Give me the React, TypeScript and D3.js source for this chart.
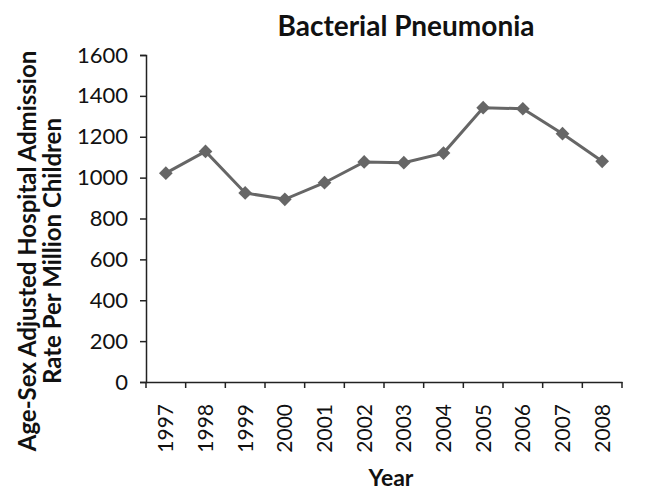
import { useEffect, useRef } from "react";
import * as d3 from "d3";

const years = ["1997", "1998", "1999", "2000", "2001", "2002", "2003", "2004", "2005", "2006", "2007", "2008"];
const rates = [1022, 1128, 925, 894, 975, 1077, 1073, 1120, 1342, 1337, 1215, 1080];
const yTicks = [0, 200, 400, 600, 800, 1000, 1200, 1400, 1600];

function App() {
  const ref = useRef<SVGSVGElement>(null);

  useEffect(() => {
    if (!ref.current) return;
    const svg = d3.select(ref.current);
    svg.selectAll("*").remove();

    const left = 146;
    const right = 622;
    const top = 55;
    const bottom = 382;
    const font = "Lato, 'Open Sans', sans-serif";

    const x = d3.scaleBand<string>().domain(years).range([left, right]);
    const y = d3.scaleLinear().domain([0, 1600]).range([bottom, top]);

    // y axis
    const yAxis = svg
      .append("g")
      .attr("transform", `translate(${left},0)`)
      .call(d3.axisLeft(y).tickValues(yTicks).tickFormat(d3.format("d")).tickSize(6).tickPadding(12));
    yAxis.select(".domain").attr("stroke", "#222").attr("stroke-width", 1.5);
    yAxis.selectAll(".tick line").attr("stroke", "#222").attr("stroke-width", 1.5);
    yAxis
      .selectAll(".tick text")
      .style("font-family", font)
      .style("font-size", "22px")
      .attr("fill", "#111");

    // x axis
    const xAxis = svg
      .append("g")
      .attr("transform", `translate(0,${bottom})`)
      .call(d3.axisBottom(x).tickSize(0).tickSizeOuter(0));
    xAxis.select(".domain").attr("stroke", "#222").attr("stroke-width", 1.5);
    xAxis.selectAll(".tick line").remove();
    xAxis
      .selectAll(".tick text")
      .style("font-family", font)
      .style("font-size", "21px")
      .attr("fill", "#111")
      .attr("transform", "rotate(-90)")
      .attr("text-anchor", "end")
      .attr("x", -22)
      .attr("y", 0)
      .attr("dy", "0.35em");

    // x band boundary ticks
    svg
      .append("g")
      .selectAll("line")
      .data(years.concat(["end"]))
      .enter()
      .append("line")
      .attr("x1", (d, i) => (i < years.length ? (x(d) as number) : right))
      .attr("x2", (d, i) => (i < years.length ? (x(d) as number) : right))
      .attr("y1", bottom)
      .attr("y2", bottom + 6)
      .attr("stroke", "#222")
      .attr("stroke-width", 1.5);

    const cx = (d: string) => (x(d) as number) + x.bandwidth() / 2;

    // line
    const line = d3
      .line<number>()
      .x((_, i) => cx(years[i]))
      .y((d) => y(d));
    svg
      .append("path")
      .datum(rates)
      .attr("d", line)
      .attr("fill", "none")
      .attr("stroke", "#666")
      .attr("stroke-width", 3);

    // diamond markers
    const diamond = d3.symbol().type(d3.symbolDiamond2).size(120);
    svg
      .append("g")
      .selectAll("path")
      .data(rates)
      .enter()
      .append("path")
      .attr("d", diamond)
      .attr("transform", (d, i) => `translate(${cx(years[i])},${y(d)})`)
      .attr("fill", "#666");

    // title
    svg
      .append("text")
      .attr("x", 406)
      .attr("y", 36)
      .attr("text-anchor", "middle")
      .style("font-family", font)
      .style("font-size", "28px")
      .style("font-weight", "700")
      .attr("fill", "#111")
      .text("Bacterial Pneumonia");

    // y title
    const yt = svg
      .append("text")
      .attr("transform", "translate(0,251) rotate(-90)")
      .attr("text-anchor", "middle")
      .style("font-family", font)
      .style("font-size", "24px")
      .style("font-weight", "700")
      .attr("fill", "#111");
    yt.append("tspan").attr("x", 0).attr("y", 36).text("Age-Sex Adjusted Hospital Admission");
    yt.append("tspan").attr("x", 0).attr("y", 61).text("Rate Per Million Children");

    // x title
    svg
      .append("text")
      .attr("x", 391)
      .attr("y", 486)
      .attr("text-anchor", "middle")
      .style("font-family", font)
      .style("font-size", "23px")
      .style("font-weight", "700")
      .attr("fill", "#111")
      .text("Year");
  }, []);

  return (
    <svg
      ref={ref}
      width={665}
      height={492}
      style={{ position: "absolute", left: 0, top: 0, background: "#fff" }}
    />
  );
}

export default App;
